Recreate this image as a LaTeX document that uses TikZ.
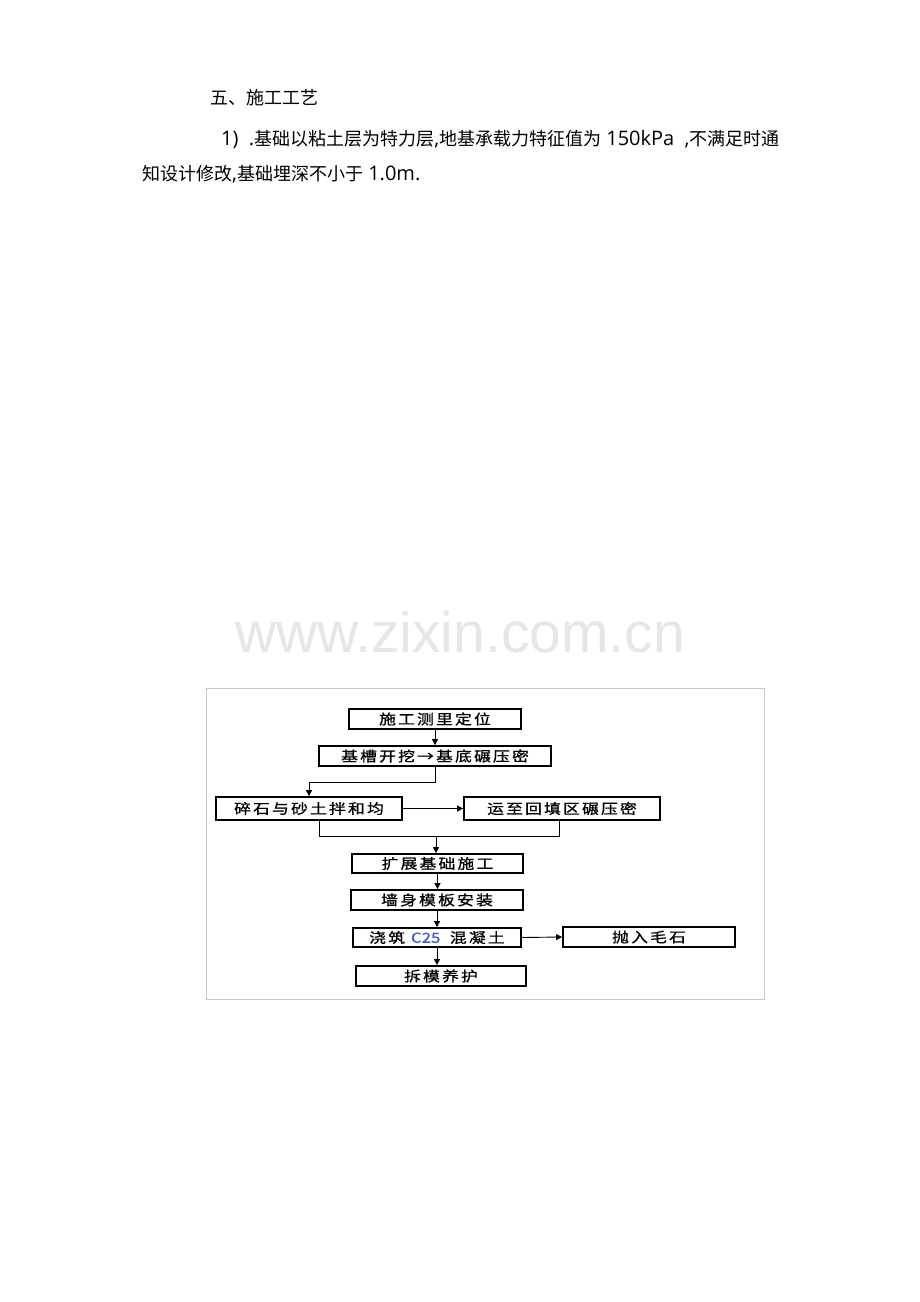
\documentclass[tikz,border=0pt]{standalone}
\usepackage{fontspec}
\usepackage{graphicx}
\usetikzlibrary{arrows.meta}
\newfontfamily\cjk{Noto Sans CJK SC}
\newfontfamily\cjkwide[LetterSpace=13,FakeBold=0.8]{Noto Sans CJK SC}
\newfontfamily\cjkbold[FakeBold=0.8]{Noto Sans CJK SC}
\newfontfamily\latn{Open Sans}
\newfontfamily\wmfont{Liberation Sans}
\definecolor{framegray}{RGB}{200,200,200}
\definecolor{wmgray}{RGB}{230,230,230}
\definecolor{cblue}{RGB}{60,95,200}
\newcommand{\boxtxt}[1]{\scalebox{1.2}[1]{\cjkwide\fontsize{14}{14}\selectfont #1}}
\newcommand{\lt}[1]{{\latn\fontsize{20}{20}\selectfont #1}}
\tikzset{
  para/.style={anchor=base west, inner sep=0pt, font=\cjk\fontsize{18}{18}\selectfont},
  stepbox/.style={draw=black, line width=1.8pt, rectangle, inner sep=0pt, minimum height=20pt},
  conn/.style={draw=black, line width=0.9pt},
  arr/.style={conn, -{Triangle[length=6pt,width=6pt]}}
}
\begin{document}
\begin{tikzpicture}[x=1pt,y=-1pt]
\useasboundingbox (0,0) rectangle (920,1302);
\fill[white] (0,0) rectangle (920,1302);
% text
\node[para] (t1) at (210,104) {五、施工工艺};
\node[para] (t2) at (221,145) {\lt{1)\ \ .}基础以粘土层为特力层\lt{,}地基承载力特征值为\lt{ 150kPa\ \ ,}不满足时通};
\node[para] (t3) at (142,180) {知设计修改\lt{,}基础埋深不小于\lt{ 1.0m.}};
% watermark
\node[anchor=base, inner sep=0pt, text=wmgray, font=\wmfont\fontsize{57}{57}\selectfont] (wm) at (460,652) {www.zixin.com.cn};
% frame
\draw[framegray, line width=1pt] (206,688) rectangle (764,999);
% boxes
\node[stepbox, minimum width=172pt] (b1) at (435,719) {\boxtxt{施工测里定位}};
\node[stepbox, minimum width=232pt] (b2) at (435,756) {\boxtxt{基槽开挖→基底碾压密}};
\node[stepbox, minimum width=186pt, minimum height=23pt] (b3) at (309,808.5) {\boxtxt{碎石与砂土拌和均}};
\node[stepbox, minimum width=196pt, minimum height=23pt] (b4) at (562,808.5) {\boxtxt{运至回填区碾压密}};
\node[stepbox, minimum width=171pt, minimum height=19pt] (b5) at (437.5,863.5) {\boxtxt{扩展基础施工}};
\node[stepbox, minimum width=172pt] (b6) at (437,900) {\boxtxt{墙身模板安装}};
\node[stepbox, minimum width=168pt, minimum height=19pt] (b7) at (437,937.5) {\boxtxt{浇筑 {\cjkbold\fontsize{14}{14}\selectfont\color{cblue}C25}\hspace{3pt} 混凝土}};
\node[stepbox, minimum width=172pt] (b8) at (649,937) {\boxtxt{抛入毛石}};
\node[stepbox, minimum width=170pt] (b9) at (441,976) {\boxtxt{拆模养护}};
% helper coordinates
\coordinate (j1) at (0,782);
\coordinate (j2) at (436,836);
\coordinate (c3) at (319,0);
\coordinate (c4) at (559,0);
% connectors
\draw[arr] (b1.south) -- (b2.north);
\draw[arr] (b2.south) -- (b2.south |- j1) -| (b3.north);
\draw[arr] (b3.east) -- (b4.west);
\draw[conn] (b3.south -| c3) |- (j2) -| (b4.south -| c4);
\draw[arr] (j2) -- (j2 |- b5.north);
\draw[arr] (b5.south) -- (b5.south |- b6.north);
\draw[arr] (b6.south) -- (b6.south |- b7.north);
\draw[arr] (b7.east) -- (b8.west);
\draw[arr] (b7.south) -- (b7.south |- b9.north);
\end{tikzpicture}
\end{document}
